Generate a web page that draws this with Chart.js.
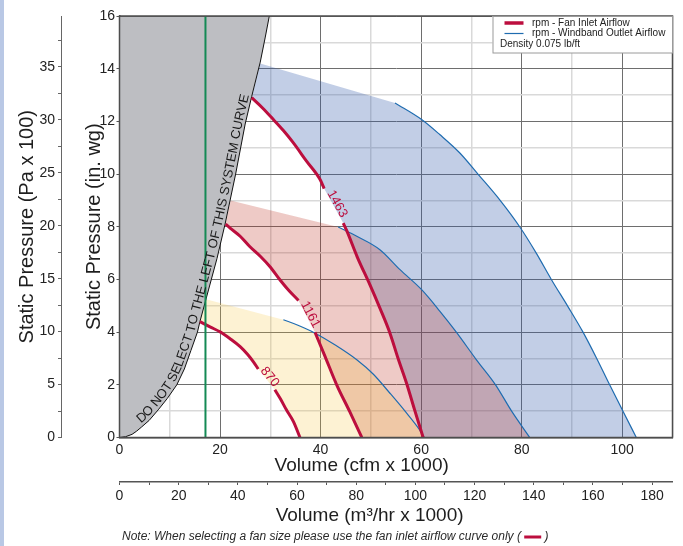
<!DOCTYPE html>
<html>
<head>
<meta charset="utf-8">
<title>Fan Performance Curve</title>
<script src="https://cdn.jsdelivr.net/npm/chart.js@4.4.1/dist/chart.umd.min.js"></script>
<style>
  html, body { margin: 0; padding: 0; background: #fff; overflow: hidden; }
  #wrap { position: relative; width: 683px; height: 546px; }
  #fanChart { display: block; }
  #stripe { position: absolute; left: 0; top: 0; width: 4px; height: 546px; background: #b9c8e5; }
</style>
</head>
<body>
<div id="wrap">
  <canvas id="fanChart" width="683" height="546"></canvas>
  <div id="stripe"></div>
</div>
<script>
// System curve (do not select to the left of it)
const sysX = [0, 1.2, 2.5, 3.4, 4.4, 5.9, 7.7, 9.5, 11.4, 12.9, 14.2, 15.5, 16.0, 17.7, 19.4, 21.0, 23.1, 25.0, 26.3, 28.0, 29.0, 29.8];
const sysY = [0, 0.03, 0.12, 0.24, 0.4, 0.65, 1.05, 1.48, 2.0, 2.6, 3.3, 4.0, 4.4, 5.6, 6.8, 8.1, 10.0, 11.9, 12.95, 14.25, 15.2, 16];

const rpmNames = ['870', '1161', '1463'];

// Fan inlet airflow curves, null = break where the rpm label sits
const inlet870X = [16.0, 18.0, 20.1, 22.0, 24.0, 25.5, 26.6, 27.6, null, 30.9, 32.0, 33.2, 34.6, 35.9];
const inlet870Y = [4.4, 4.2, 4.0, 3.75, 3.45, 3.15, 2.88, 2.6, null, 1.81, 1.47, 1.05, 0.6, 0];
const inlet1161X = [21.1, 22.0, 24.0, 25.9, 28.0, 29.9, 31.9, 33.6, 35.6, null, 38.9, 40.9, 43.2, 45.8, 48.2];
const inlet1161Y = [8.1, 7.95, 7.64, 7.25, 6.88, 6.49, 5.99, 5.6, 5.2, null, 3.99, 3.07, 2.0, 0.98, 0];
const inlet1463X = [26.3, 28.5, 30.6, 32.6, 34.55, 37.2, 39.9, 40.7, null, 44.5, 45.2, 47.3, 49.8, 51.8, 53.8, 55.4, 57.1, 58.7, 60.4];
const inlet1463Y = [12.9, 12.5, 12.07, 11.65, 11.19, 10.49, 9.79, 9.45, null, 8.14, 7.85, 6.85, 5.8, 4.91, 3.96, 3.01, 2.06, 1.05, 0];

// Windband outlet airflow curves
const outlet870X = [32.6, 35.5, 38.9, 43.0, 47.2, 50.5, 53.8, 56.8, 59.7, 60.6];
const outlet870Y = [4.47, 4.26, 3.96, 3.5, 2.95, 2.4, 1.68, 1.0, 0.29, 0];
const outlet1161X = [43.5, 47.2, 51.8, 55.8, 60.1, 63.7, 67.0, 71.0, 74.8, 78.0, 81.6];
const outlet1161Y = [7.99, 7.64, 7.13, 6.37, 5.61, 4.8, 4.0, 2.95, 2.0, 1.0, 0];
const outlet1463X = [54.8, 60.1, 63.7, 67.7, 71.3, 75.6, 79.6, 82.9, 85.9, 89.2, 92.2, 94.9, 97.5, 100.2, 102.8];
const outlet1463Y = [12.7, 12.07, 11.5, 10.8, 10.0, 9.03, 8.0, 7.0, 6.0, 4.97, 4.0, 3.01, 2.0, 0.98, 0];

// where each shaded band leaves the system curve (870, 1161, 1463)
const bandStartX = [17.2, 22.1, 28.0];
const bandStartY = [5.25, 9.0, 14.2];

// green limit line
const limitX = [17.1, 17.1];
const limitY = [0, 16];

// axis ranges and unit conversions
const cfmMax = 110;
const inwgMax = 16;
const M3H_PER_CFM = 1.699;
const PA100_PER_INWG = 2.4884;

const RED = '#bc0e3e';
const BLUE = '#1f6cb0';
const MAJOR = '#6e6e6e';
const MINOR = '#d9d9d9';

Chart.defaults.font.family = "'Liberation Sans', Arial, Helvetica, sans-serif";
Chart.defaults.color = '#222';

function pts(xs, ys) {
  return xs.map((x, i) => ({ x: x, y: ys[i] }));
}

function band(i, outX, outY, inX, inY) {
  const inner = pts(inX, inY).filter(p => p.x !== null).reverse();
  return [{ x: bandStartX[i], y: bandStartY[i] }].concat(pts(outX, outY), inner);
}

const clear = 'rgba(0,0,0,0)';

const datasets = [
  // fills, bottom to top
  { data: band(2, outlet1463X, outlet1463Y, inlet1463X, inlet1463Y), backgroundColor: 'rgba(52,92,172,0.30)', borderColor: clear, fill: 'shape', order: 9 },
  { data: band(1, outlet1161X, outlet1161Y, inlet1161X, inlet1161Y), backgroundColor: 'rgba(187,43,27,0.25)', borderColor: clear, fill: 'shape', order: 8 },
  { data: band(0, outlet870X, outlet870Y, inlet870X, inlet870Y), backgroundColor: 'rgba(246,196,55,0.22)', borderColor: clear, fill: 'shape', order: 7 },
  // do-not-select region
  { data: pts(sysX, sysY).concat([{ x: 0, y: inwgMax }]), backgroundColor: '#bdbec2', borderColor: '#111', borderWidth: 1, fill: 'shape', order: 6 },
  // outlet curves
  { data: pts(outlet870X, outlet870Y), borderColor: BLUE, borderWidth: 1.2, cubicInterpolationMode: 'monotone', order: 5 },
  { data: pts(outlet1161X, outlet1161Y), borderColor: BLUE, borderWidth: 1.2, cubicInterpolationMode: 'monotone', order: 5 },
  { data: pts(outlet1463X, outlet1463Y), borderColor: BLUE, borderWidth: 1.2, cubicInterpolationMode: 'monotone', order: 5 },
  // inlet curves
  { data: pts(inlet870X, inlet870Y), borderColor: RED, borderWidth: 3, cubicInterpolationMode: 'monotone', order: 4 },
  { data: pts(inlet1161X, inlet1161Y), borderColor: RED, borderWidth: 3, cubicInterpolationMode: 'monotone', order: 4 },
  { data: pts(inlet1463X, inlet1463Y), borderColor: RED, borderWidth: 3, cubicInterpolationMode: 'monotone', order: 4 },
  // green line
  { data: pts(limitX, limitY), borderColor: '#148a55', borderWidth: 2, order: 3 }
];
datasets.forEach(d => {
  d.showLine = true;
  d.pointRadius = 0;
  if (d.fill === undefined) d.fill = false;
});

function pointAt(path, cum, s) {
  let i = 1;
  while (i < path.length - 1 && cum[i] < s) i++;
  const p0 = path[i - 1], p1 = path[i];
  const t = (s - cum[i - 1]) / (cum[i] - cum[i - 1]);
  return {
    x: p0.x + (p1.x - p0.x) * t,
    y: p0.y + (p1.y - p0.y) * t,
    a: Math.atan2(p1.y - p0.y, p1.x - p0.x)
  };
}

const annotate = {
  id: 'annotate',
  afterDatasetsDraw(chart) {
    const { ctx, chartArea: a, scales } = chart;
    const xs = scales.x, ys = scales.y;
    ctx.save();

    // frame
    ctx.strokeStyle = '#4d4d4d';
    ctx.lineWidth = 1.5;
    ctx.strokeRect(a.left, a.top, a.right - a.left, a.bottom - a.top);

    // text along the system curve, ending at the 12.95 in. wg point
    const path = sysX.map((v, i) => ({ x: xs.getPixelForValue(v), y: ys.getPixelForValue(sysY[i]) }));
    const cum = [0];
    for (let i = 1; i < path.length; i++) {
      cum.push(cum[i - 1] + Math.hypot(path[i].x - path[i - 1].x, path[i].y - path[i - 1].y));
    }
    const msg = 'DO NOT SELECT TO THE LEFT OF THIS SYSTEM CURVE';
    ctx.font = "13px 'Liberation Sans', Arial, sans-serif";
    ctx.fillStyle = '#1a1a1a';
    ctx.textBaseline = 'alphabetic';
    let s = cum[sysY.indexOf(12.95)] - ctx.measureText(msg).width;
    for (const ch of msg) {
      const w = ctx.measureText(ch).width;
      const p = pointAt(path, cum, s + w / 2);
      ctx.save();
      ctx.translate(p.x, p.y);
      ctx.rotate(p.a);
      ctx.fillText(ch, -w / 2, -3);
      ctx.restore();
      s += w;
    }

    // rpm labels in the gaps of the inlet curves
    const inlets = [[inlet870X, inlet870Y], [inlet1161X, inlet1161Y], [inlet1463X, inlet1463Y]];
    ctx.font = "13px 'Liberation Sans', Arial, sans-serif";
    ctx.fillStyle = RED;
    ctx.textAlign = 'center';
    ctx.textBaseline = 'middle';
    inlets.forEach(([cx, cy], k) => {
      const g = cy.indexOf(null);
      const p0 = { x: xs.getPixelForValue(cx[g - 1]), y: ys.getPixelForValue(cy[g - 1]) };
      const p1 = { x: xs.getPixelForValue(cx[g + 1]), y: ys.getPixelForValue(cy[g + 1]) };
      const ang = Math.atan2(p1.y - p0.y, p1.x - p0.x);
      const lift = 4;
      ctx.save();
      ctx.translate((p0.x + p1.x) / 2 + Math.sin(ang) * lift, (p0.y + p1.y) / 2 - Math.cos(ang) * lift);
      ctx.rotate(ang);
      ctx.fillText(rpmNames[k], 0, 0);
      ctx.restore();
    });
    ctx.restore();
  },
  afterDraw(chart) {
    const { ctx, chartArea: a } = chart;
    ctx.save();

    // legend box
    const bx = a.right - 180, by = a.top;
    ctx.fillStyle = '#fff';
    ctx.fillRect(bx, by, 180, 37);
    ctx.strokeStyle = '#9a9a9a';
    ctx.lineWidth = 1;
    ctx.strokeRect(bx + 0.5, by + 0.5, 179.5, 36.5);
    ctx.lineCap = 'butt';
    ctx.strokeStyle = RED;
    ctx.lineWidth = 3.5;
    ctx.beginPath(); ctx.moveTo(bx + 12, by + 7); ctx.lineTo(bx + 31, by + 7); ctx.stroke();
    ctx.strokeStyle = BLUE;
    ctx.lineWidth = 1.2;
    ctx.beginPath(); ctx.moveTo(bx + 12, by + 17.5); ctx.lineTo(bx + 31, by + 17.5); ctx.stroke();
    ctx.font = "10px 'Liberation Sans', Arial, sans-serif";
    ctx.fillStyle = '#222';
    ctx.textBaseline = 'middle';
    ctx.fillText('rpm - Fan Inlet Airflow', bx + 39.5, by + 7);
    ctx.fillText('rpm - Windband Outlet Airflow', bx + 39.5, by + 17.5);
    ctx.fillText('Density 0.075 lb/ft', bx + 7.5, by + 28.5);

    // note under the chart
    ctx.font = "italic 12px 'Liberation Sans', Arial, sans-serif";
    ctx.fillStyle = '#2a2a2a';
    const note = 'Note: When selecting a fan size please use the fan inlet airflow curve only ( ';
    const nx = 122, ny = 537;
    ctx.fillText(note, nx, ny);
    const w = ctx.measureText(note).width;
    ctx.strokeStyle = RED;
    ctx.lineWidth = 3;
    ctx.beginPath(); ctx.moveTo(nx + w, ny); ctx.lineTo(nx + w + 17, ny); ctx.stroke();
    ctx.fillText(' )', nx + w + 17, ny);
    ctx.restore();
  }
};

const tickFont = { size: 14 };
const titleFont = { size: 19 };
const sideTitleFont = { size: 20 };
const gridColor = (step) => (c) => (c.tick && Math.abs(c.tick.value % step) < 1e-6 ? MAJOR : MINOR);
const gridWidth = (step) => (c) => (c.tick && Math.abs(c.tick.value % step) < 1e-6 ? 1 : 1.5);
const every = (step) => (v) => (Math.abs(v % step) < 1e-6 ? v : '');

new Chart(document.getElementById('fanChart'), {
  type: 'scatter',
  data: { datasets: datasets },
  plugins: [annotate],
  options: {
    responsive: false,
    animation: false,
    devicePixelRatio: 1,
    layout: { padding: { left: 0, right: 10.5, top: 16, bottom: 19 } },
    plugins: {
      legend: { display: false },
      tooltip: { enabled: false }
    },
    scales: {
      x: {
        type: 'linear', position: 'bottom', min: 0, max: cfmMax, weight: 0,
        afterFit: (s) => { s.height = 44.5; },
        ticks: { stepSize: 10, autoSkip: false, maxRotation: 0, padding: 4, font: tickFont, callback: every(20) },
        grid: { color: gridColor(20), lineWidth: gridWidth(20), drawTicks: false },
        border: { color: '#4d4d4d', width: 1.5 },
        // trailing spaces shift the centred title left, as in the original
        title: { display: true, text: 'Volume (cfm x 1000)             ', color: '#1e1e1e', font: titleFont, padding: { top: 0, bottom: 4.6 } }
      },
      x2: {
        type: 'linear', position: 'bottom', min: 0, max: cfmMax * M3H_PER_CFM, weight: 1,
        afterFit: (s) => { s.height = 45; },
        ticks: { stepSize: 10, includeBounds: false, autoSkip: false, maxRotation: 0, padding: 3, font: tickFont, callback: every(20) },
        grid: { drawOnChartArea: false, tickLength: 3, color: '#555' },
        border: { color: '#555', width: 1.5 },
        title: { display: true, text: 'Volume (m³/hr x 1000)          ', color: '#1e1e1e', font: titleFont, padding: { top: 0, bottom: 0 } }
      },
      y: {
        type: 'linear', position: 'left', min: 0, max: inwgMax, weight: 0,
        afterFit: (s) => { s.width = 58.5; },
        ticks: { stepSize: 1, autoSkip: false, padding: 1.5, font: tickFont, callback: every(2) },
        grid: { color: gridColor(2), lineWidth: gridWidth(2), tickLength: 3, tickColor: (c) => (c.tick && c.tick.value % 2 === 0 ? '#555' : clear) },
        border: { color: '#4d4d4d', width: 1.5 },
        title: { display: true, text: 'Static Pressure (in. wg)', color: '#1e1e1e', font: sideTitleFont, padding: { top: 21, bottom: 0 } }
      },
      y2: {
        type: 'linear', position: 'left', min: 0, max: inwgMax * PA100_PER_INWG, weight: 1,
        afterFit: (s) => { s.width = 61; },
        ticks: { stepSize: 2.5, includeBounds: false, autoSkip: false, padding: 3, font: tickFont, callback: every(5) },
        grid: { drawOnChartArea: false, tickLength: 3, color: '#666' },
        border: { color: '#666', width: 1 },
        title: { display: true, text: 'Static Pressure (Pa x 100)', color: '#1e1e1e', font: sideTitleFont, padding: { top: 15, bottom: 0 } }
      }
    }
  }
});
</script>
</body>
</html>
